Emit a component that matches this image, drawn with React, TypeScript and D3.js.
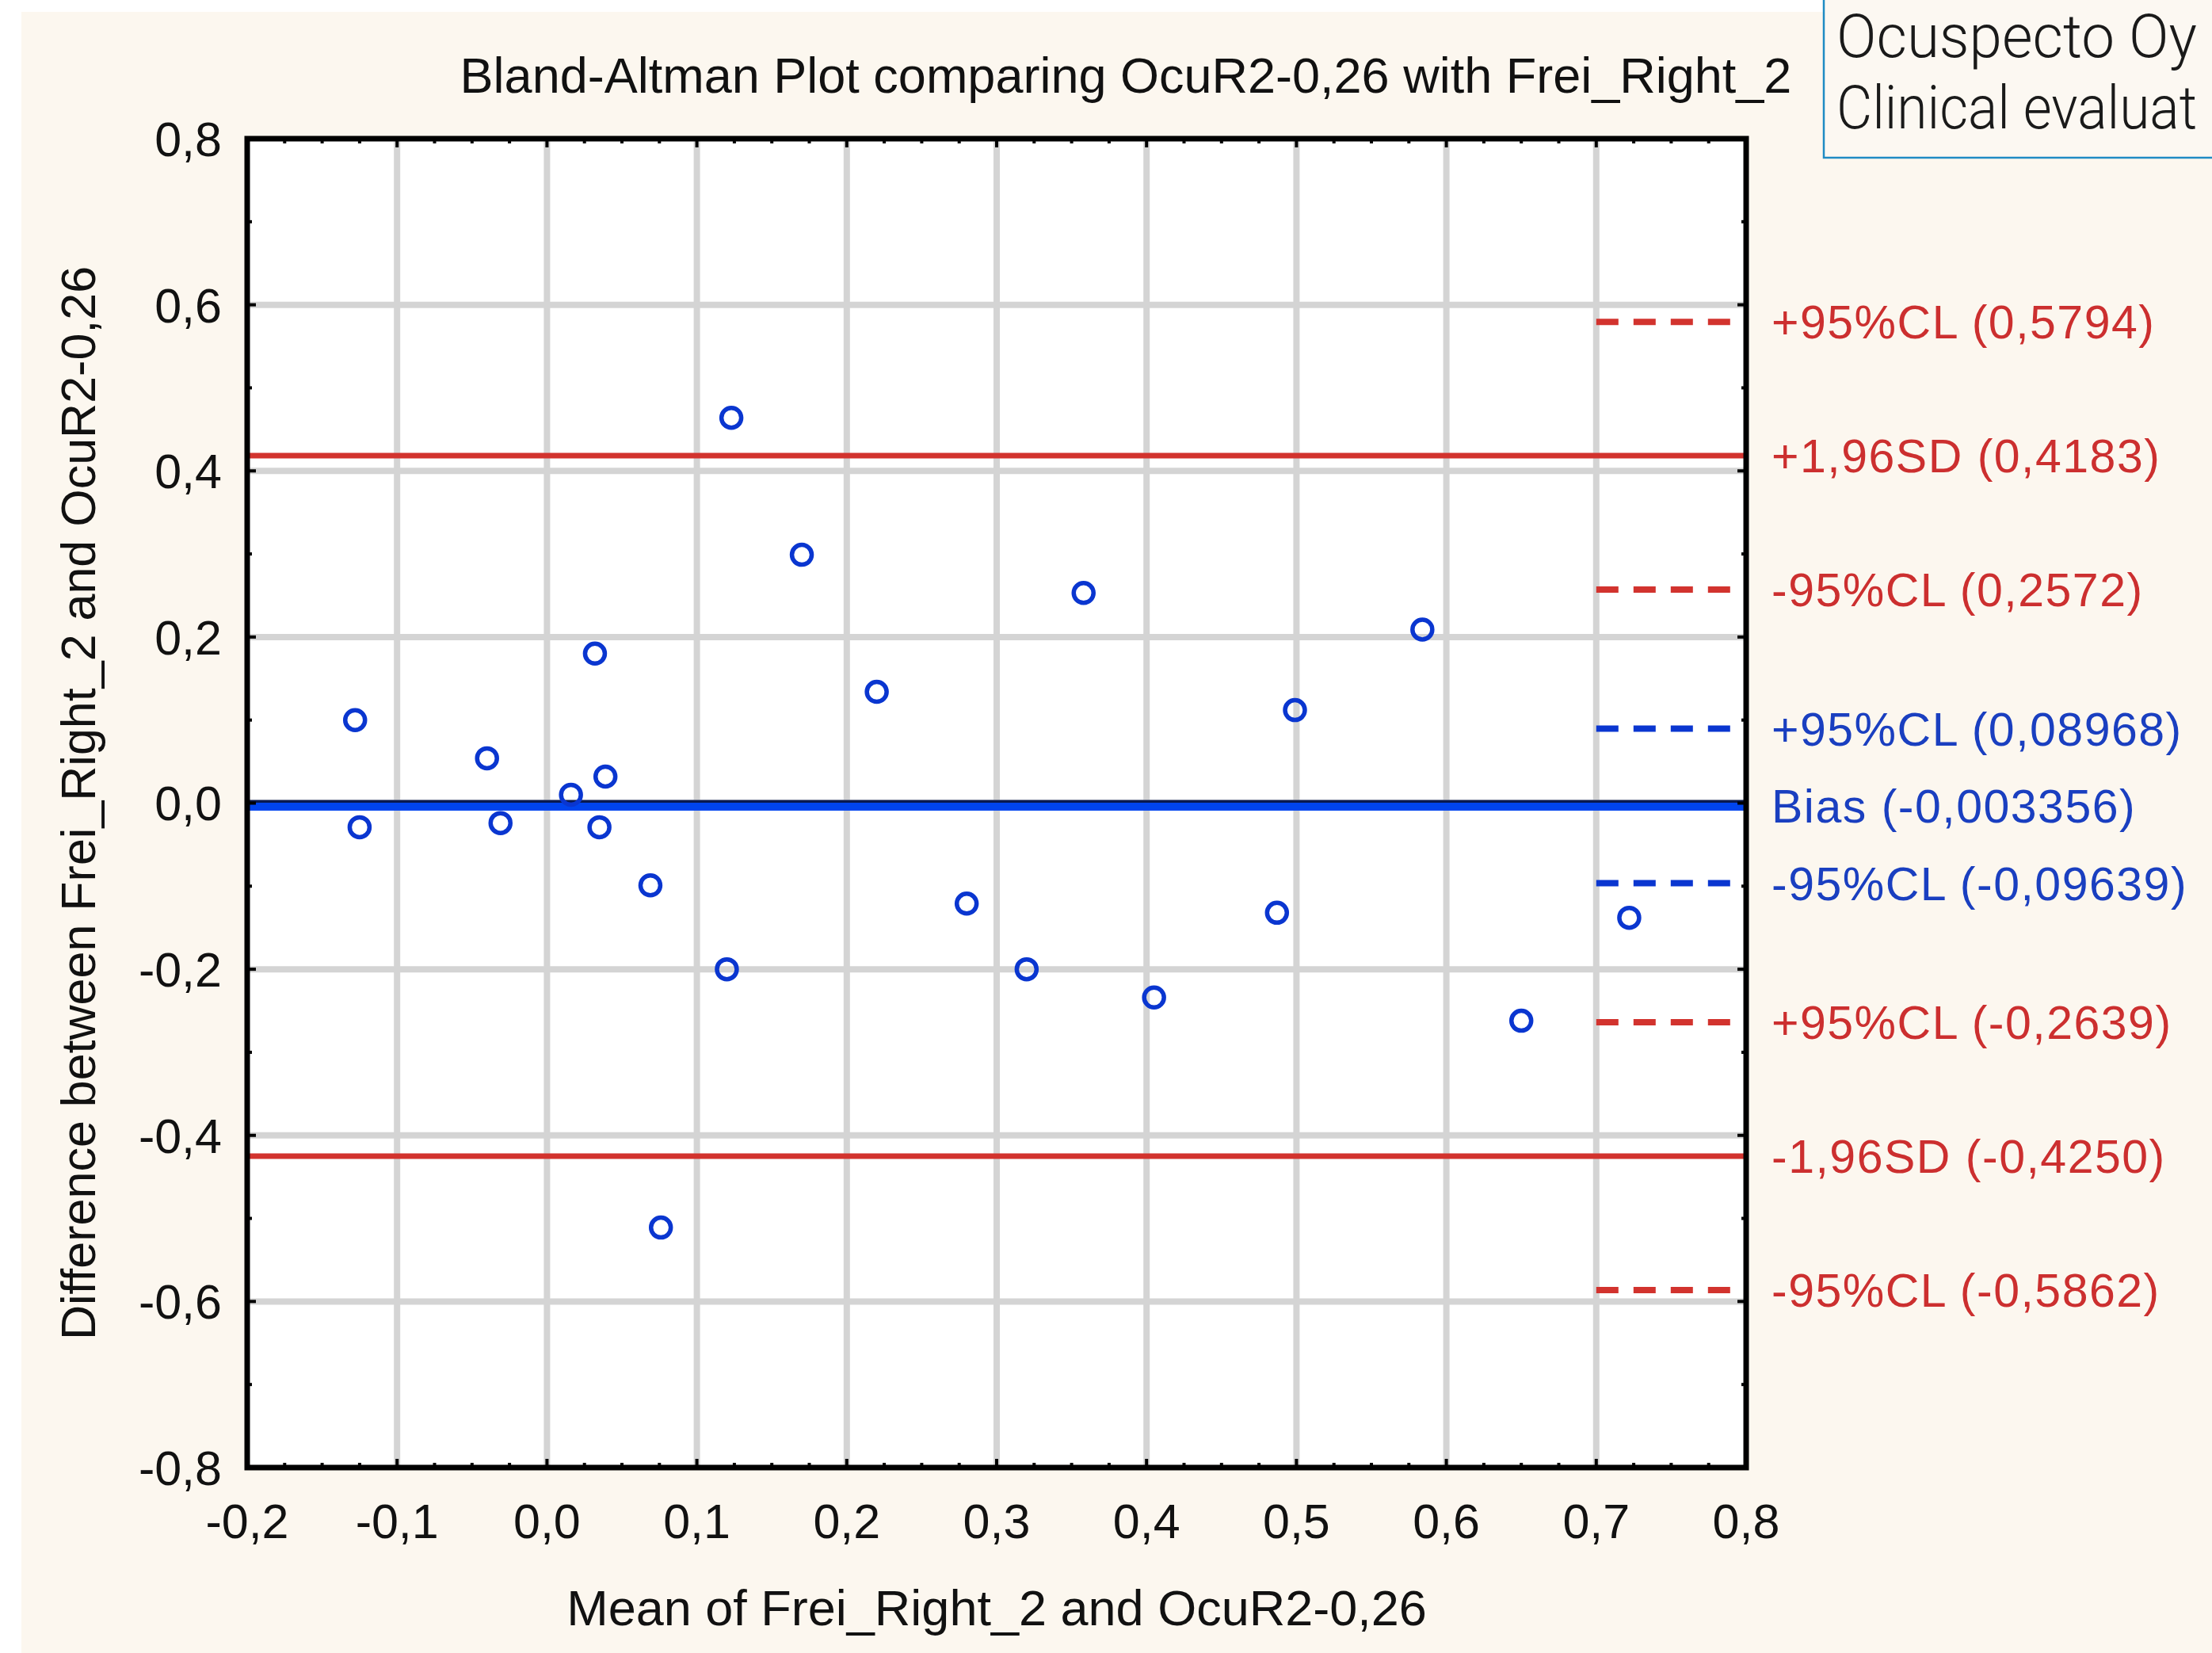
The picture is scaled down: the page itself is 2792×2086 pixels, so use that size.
import React, { useEffect } from "react";
import * as d3 from "d3";

// ---- data ----
const meanValues: number[] = [
  -0.128, -0.125, -0.040, -0.031, 0.016, 0.032, 0.039, 0.035, 0.069, 0.076,
  0.123, 0.120, 0.170, 0.220, 0.280, 0.320, 0.358, 0.405, 0.487, 0.499,
  0.584, 0.650, 0.722,
];
const diffValues: number[] = [
  0.100, -0.029, 0.054, -0.024, 0.010, 0.180, 0.032, -0.029, -0.099, -0.511,
  0.464, -0.200, 0.299, 0.134, -0.121, -0.200, 0.253, -0.234, -0.132, 0.112,
  0.209, -0.262, -0.138,
];
const biasValue = -0.003356;
const biasLabel = "Bias (-0,003356)";
const limitValues: number[] = [0.4183, -0.425];
const limitLabels: string[] = ["+1,96SD (0,4183)", "-1,96SD (-0,4250)"];
const limitCLValues: number[] = [0.5794, 0.2572, -0.2639, -0.5862];
const limitCLLabels: string[] = [
  "+95%CL (0,5794)",
  "-95%CL (0,2572)",
  "+95%CL (-0,2639)",
  "-95%CL (-0,5862)",
];
const biasCLValues: number[] = [0.08968, -0.09639];
const biasCLLabels: string[] = ["+95%CL (0,08968)", "-95%CL (-0,09639)"];
const xTicks: number[] = [-0.2, -0.1, 0.0, 0.1, 0.2, 0.3, 0.4, 0.5, 0.6, 0.7, 0.8];
const yTicks: number[] = [-0.8, -0.6, -0.4, -0.2, 0.0, 0.2, 0.4, 0.6, 0.8];
const clStartX = 0.7;

const title = "Bland-Altman Plot comparing OcuR2-0,26 with Frei_Right_2";
const xTitle = "Mean of Frei_Right_2 and OcuR2-0,26";
const yTitle = "Difference between Frei_Right_2 and OcuR2-0,26";
const boxLines: string[] = ["Ocuspecto Oy", "Clinical evaluat"];

const W = 2792;
const H = 2086;
const L = 312, R = 2204, T = 175, B = 1852;

const fmt = (v: number) => d3.format(".1f")(v).replace(".", ",").replace("−", "-");

export default function App() {
  useEffect(() => {
    document.body.style.margin = "0";
    document.body.style.overflow = "hidden";
  }, []);

  const x = d3.scaleLinear().domain([-0.2, 0.8]).range([L, R]);
  const y = d3.scaleLinear().domain([-0.8, 0.8]).range([B, T]);

  const xMinor = d3.range(-0.2, 0.8001, 0.025);
  const yMinor = d3.range(-0.8, 0.8001, 0.1);

  const red = "#d2332e";
  const redText = "#cc2f2f";
  const blue = "#0a36d0";
  const blueText = "#1a3fc0";
  const grid = "#d4d4d4";
  const font = "'Liberation Sans', Arial, sans-serif";
  const labelX = 2236;
  const clEnd = 2188;

  return (
    <svg width={W} height={H} style={{ position: "absolute", left: 0, top: 0, display: "block" }}>
      <rect x={0} y={0} width={W} height={H} fill="#ffffff" />
      <rect x={27} y={15} width={W - 27} height={H - 15} fill="#fcf7ef" />
      {/* plot area */}
      <rect x={L} y={T} width={R - L} height={B - T} fill="#ffffff" />
      {/* gridlines */}
      {xTicks.slice(1, -1).map((t) => (
        <line key={"gx" + t} x1={x(t)} x2={x(t)} y1={T} y2={B} stroke={grid} strokeWidth={8} />
      ))}
      {yTicks.slice(1, -1).map((t) => (
        <line key={"gy" + t} x1={L} x2={R} y1={y(t)} y2={y(t)} stroke={grid} strokeWidth={8} />
      ))}
      {/* limits of agreement */}
      {limitValues.map((v, i) => (
        <line key={"lim" + i} x1={L} x2={R} y1={y(v)} y2={y(v)} stroke={red} strokeWidth={7} />
      ))}
      {limitCLValues.map((v, i) => (
        <line key={"lcl" + i} x1={x(clStartX)} x2={clEnd} y1={y(v)} y2={y(v)} stroke={red} strokeWidth={8} strokeDasharray="28 19" />
      ))}
      {biasCLValues.map((v, i) => (
        <line key={"bcl" + i} x1={x(clStartX)} x2={clEnd} y1={y(v)} y2={y(v)} stroke={blue} strokeWidth={8} strokeDasharray="28 19" />
      ))}
      <line x1={L} x2={R} y1={y(biasValue) - 1} y2={y(biasValue) - 1} stroke="#0a1a50" strokeWidth={13} />
      <line x1={L} x2={R} y1={y(biasValue) + 1} y2={y(biasValue) + 1} stroke="#0044ee" strokeWidth={10} />
      {/* points */}
      {meanValues.map((m, i) => (
        <circle key={"p" + i} cx={x(m)} cy={y(diffValues[i])} r={12.5} fill="none" stroke={blue} strokeWidth={5.5} />
      ))}
      {/* ticks */}
      {xMinor.map((t, i) => {
        const major = i % 4 === 0;
        const len = major ? 11 : 6;
        return (
          <g key={"xt" + i}>
            <line x1={x(t)} x2={x(t)} y1={B} y2={B - len} stroke="#000" strokeWidth={4} />
            <line x1={x(t)} x2={x(t)} y1={T} y2={T + len} stroke="#000" strokeWidth={4} />
          </g>
        );
      })}
      {yMinor.map((t, i) => {
        const major = i % 2 === 0;
        const len = major ? 11 : 6;
        return (
          <g key={"yt" + i}>
            <line x1={L} x2={L + len} y1={y(t)} y2={y(t)} stroke="#000" strokeWidth={4} />
            <line x1={R} x2={R - len} y1={y(t)} y2={y(t)} stroke="#000" strokeWidth={4} />
          </g>
        );
      })}
      {/* frame */}
      <rect x={L} y={T} width={R - L} height={B - T} fill="none" stroke="#000" strokeWidth={7} />
      {/* tick labels */}
      {xTicks.map((t) => (
        <text key={"xl" + t} x={x(t)} y={1941} textAnchor="middle" fontFamily={font} fontSize={61} fill="#111">
          {fmt(t)}
        </text>
      ))}
      {yTicks.map((t) => (
        <text key={"yl" + t} x={280} y={y(t)} dy="0.36em" textAnchor="end" fontFamily={font} fontSize={61} fill="#111">
          {fmt(t)}
        </text>
      ))}
      {/* right-hand labels */}
      {limitValues.map((v, i) => (
        <text key={"liml" + i} x={labelX} y={y(v)} dy="0.36em" fontFamily={font} fontSize={59} fill={redText} letterSpacing={1.5}>
          {limitLabels[i]}
        </text>
      ))}
      {limitCLValues.map((v, i) => (
        <text key={"lcll" + i} x={labelX} y={y(v)} dy="0.36em" fontFamily={font} fontSize={59} fill={redText} letterSpacing={1.5}>
          {limitCLLabels[i]}
        </text>
      ))}
      {biasCLValues.map((v, i) => (
        <text key={"bcll" + i} x={labelX} y={y(v)} dy="0.36em" fontFamily={font} fontSize={59} fill={blueText} letterSpacing={1.5}>
          {biasCLLabels[i]}
        </text>
      ))}
      <text x={labelX} y={y(biasValue)} dy="0.36em" fontFamily={font} fontSize={59} fill={blueText} letterSpacing={1.5}>
        {biasLabel}
      </text>
      {/* titles */}
      <text x={1421} y={117} textAnchor="middle" fontFamily={font} fontSize={63} fill="#111">
        {title}
      </text>
      <text x={(L + R) / 2} y={2051} textAnchor="middle" fontFamily={font} fontSize={63} fill="#111">
        {xTitle}
      </text>
      <text transform={`translate(${120},${(T + B) / 2}) rotate(-90)`} textAnchor="middle" fontFamily={font} fontSize={61} fill="#111">
        {yTitle}
      </text>
      {/* top-right box */}
      <rect x={2302} y={-5} width={W} height={204} fill="#fcf8f2" stroke="#1f8bc4" strokeWidth={2.5} />
      <text x={2318} y={72} fontFamily="Roboto, 'Noto Sans', sans-serif" fontWeight={300} fontSize={76} fill="#1a1a1a" textLength={455} lengthAdjust="spacingAndGlyphs">
        {boxLines[0]}
      </text>
      <text x={2318} y={162} fontFamily="Roboto, 'Noto Sans', sans-serif" fontWeight={300} fontSize={76} fill="#1a1a1a" textLength={455} lengthAdjust="spacingAndGlyphs">
        {boxLines[1]}
      </text>
    </svg>
  );
}
